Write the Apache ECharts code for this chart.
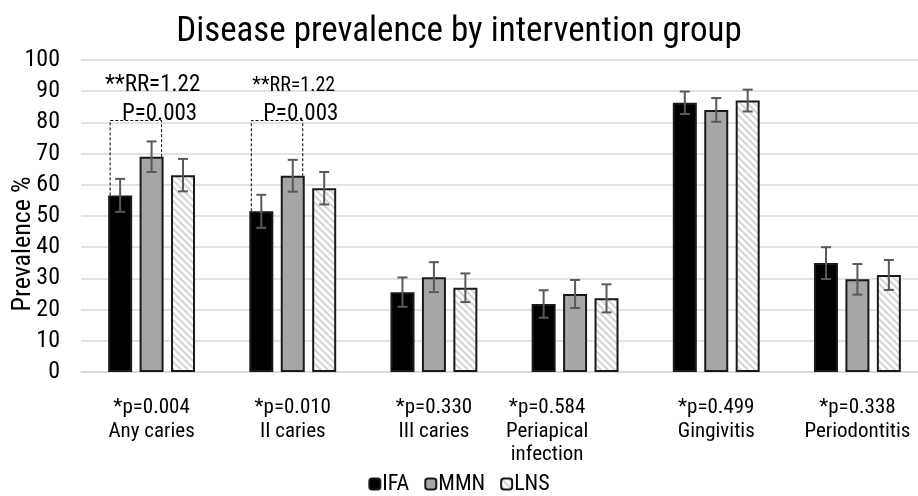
<!DOCTYPE html>
<html>
<head>
<meta charset="utf-8">
<script src="https://cdn.jsdelivr.net/npm/echarts@6/dist/echarts.min.js"></script>
<style>
html,body{margin:0;padding:0;background:#fff;}
#chart{width:918px;height:496px;}
</style>
</head>
<body>
<div id="chart"></div>
<script>
// ---- data ----
const categories = ['Any caries', 'II caries', 'III caries', 'Periapical\ninfection', 'Gingivitis', 'Periodontitis'];
const pValues = ['*p=0.004', '*p=0.010', '*p=0.330', '*p=0.584', '*p=0.499', '*p=0.338'];
const seriesNames = ['IFA', 'MMN', 'LNS'];
const ifaValues = [56.6, 51.5, 25.6, 21.8, 86.3, 34.9];
const mmnValues = [69.0, 62.9, 30.4, 25.0, 84.0, 29.7];
const lnsValues = [63.1, 58.9, 27.0, 23.6, 87.0, 31.1];
const ifaErrors = [5.3, 5.3, 4.7, 4.4, 3.6, 5.1];
const mmnErrors = [4.9, 5.1, 4.8, 4.5, 3.8, 4.9];
const lnsErrors = [5.2, 5.2, 4.6, 4.5, 3.5, 4.8];
const rrGroups = [0, 1];
const rrLabels = ['**RR=1.22', '**RR=1.22'];
const rrPLabels = ['P=0.003', 'P=0.003'];
const bracketTop = 80.6;
const yTicks = {min: 0, max: 100, interval: 10};

// ---- styling ----
const FONT = "'Roboto Condensed', 'Liberation Sans Narrow', 'Arial Narrow', 'Liberation Sans', Arial, sans-serif";
const BAR_W = 24;
const GAP = 0.31;
const BORDER = '#1a1a1a';

function hatch() {
  const c = document.createElement('canvas');
  c.width = 7; c.height = 7;
  const g = c.getContext('2d');
  g.fillStyle = '#ffffff';
  g.fillRect(0, 0, 7, 7);
  g.strokeStyle = '#d6d6d6';
  g.lineWidth = 2.2;
  g.beginPath();
  g.moveTo(-2, -2); g.lineTo(9, 9);
  g.moveTo(-9, -2); g.lineTo(2, 9);
  g.moveTo(5, -2); g.lineTo(16, 9);
  g.stroke();
  return c;
}
const fills = ['#000000', '#a6a6a6', {image: hatch(), repeat: 'repeat'}];
const valueSets = [ifaValues, mmnValues, lnsValues];
const errorSets = [ifaErrors, mmnErrors, lnsErrors];

function barOffset(k) {
  return (k - 1) * (BAR_W + BAR_W * GAP);
}

function errorRenderer(k) {
  return function (params, api) {
    const i = api.value(0), v = api.value(1), e = api.value(2);
    const x = api.coord([i, v])[0] + barOffset(k);
    const yHi = api.coord([i, v + e])[1];
    const yLo = api.coord([i, v - e])[1];
    const st = {stroke: '#595959', lineWidth: 2};
    const cap = 5;
    return {
      type: 'group',
      children: [
        {type: 'line', shape: {x1: x, y1: yHi, x2: x, y2: yLo}, style: st},
        {type: 'line', shape: {x1: x - cap, y1: yHi, x2: x + cap, y2: yHi}, style: st},
        {type: 'line', shape: {x1: x - cap, y1: yLo, x2: x + cap, y2: yLo}, style: st}
      ]
    };
  };
}

function bracketRenderer(params, api) {
  const i = api.value(0), a = api.value(1), b = api.value(2), t = api.value(3);
  const idx = params.dataIndex;
  const cx = api.coord([i, t])[0];
  const xl = cx + barOffset(0) - 10;
  const xr = cx + barOffset(1) + 10;
  const yT = api.coord([i, t])[1];
  const yA = api.coord([i, a])[1];
  const yB = api.coord([i, b])[1];
  const dash = {stroke: '#000', lineWidth: 1, lineDash: [3, 2], fill: null};
  return {
    type: 'group',
    children: [
      {type: 'polyline', shape: {points: [[xl, yA], [xl, yT], [xr, yT], [xr, yB]]}, style: dash},
      {type: 'text', x: cx + 1, y: yT - 35, style: {text: rrLabels[idx], font: (idx === 0 ? 23 : 20) + 'px ' + FONT, fill: '#000', textAlign: 'center', textVerticalAlign: 'middle'}},
      {type: 'text', x: cx + 8, y: yT - 6, style: {text: rrPLabels[idx], font: '23px ' + FONT, fill: '#000', textAlign: 'center', textVerticalAlign: 'middle'}}
    ]
  };
}

const series = [];
seriesNames.forEach(function (name, k) {
  series.push({
    name: name,
    type: 'bar',
    barWidth: BAR_W,
    barGap: (GAP * 100) + '%',
    data: valueSets[k],
    itemStyle: {color: fills[k], borderColor: BORDER, borderWidth: 2},
    z: 2
  });
});
seriesNames.forEach(function (name, k) {
  series.push({
    type: 'custom',
    renderItem: errorRenderer(k),
    data: valueSets[k].map(function (v, i) { return [i, v, errorSets[k][i]]; }),
    z: 5,
    silent: true
  });
});
series.push({
  type: 'custom',
  renderItem: bracketRenderer,
  data: rrGroups.map(function (g) { return [g, ifaValues[g], mmnValues[g], bracketTop]; }),
  z: 6,
  silent: true,
  clip: false
});

const chart = echarts.init(document.getElementById('chart'), null, {renderer: 'canvas'});
chart.setOption({
  animation: false,
  backgroundColor: '#ffffff',
  title: {
    text: 'Disease prevalence by intervention group',
    left: 'center',
    top: 10,
    textStyle: {fontFamily: FONT, fontSize: 35, fontWeight: 'normal', color: '#000'}
  },
  legend: {
    bottom: -4,
    left: 'center',
    itemWidth: 11,
    itemHeight: 11,
    itemGap: 15,
    data: seriesNames,
    textStyle: {fontFamily: FONT, fontSize: 22, color: '#000', padding: [0, 0, 0, -3]}
  },
  grid: {left: 81, top: 60, width: 847, height: 312, containLabel: false, outerBoundsMode: 'none'},
  xAxis: {
    type: 'category',
    data: categories,
    axisLine: {lineStyle: {color: '#d9d9d9', width: 1.5}},
    axisTick: {show: false},
    axisLabel: {
      interval: 0,
      margin: 24,
      formatter: function (v, i) {
        const lines = [pValues[i]].concat(v.split('\n'));
        const s = i === 3 ? 'sh' : 'n';
        return lines.map(function (l) { return '{' + s + '|' + l + '}'; }).join('\n');
      },
      rich: {
        n: {fontFamily: FONT, fontSize: 21, lineHeight: 23.5, color: '#000'},
        sh: {fontFamily: FONT, fontSize: 21, lineHeight: 23.5, color: '#000', padding: [0, 56, 0, 0]}
      }
    }
  },
  yAxis: {
    type: 'value',
    min: yTicks.min,
    max: yTicks.max,
    interval: yTicks.interval,
    name: 'Prevalence %',
    nameLocation: 'middle',
    nameGap: 45,
    nameMoveOverlap: false,
    nameTextStyle: {fontFamily: FONT, fontSize: 26, color: '#000', padding: [0, 56, 0, 0]},
    axisLabel: {fontFamily: FONT, fontSize: 24, color: '#000', margin: 21},
    axisLine: {show: false},
    axisTick: {show: false},
    splitLine: {lineStyle: {color: '#d9d9d9', width: 1.5}}
  },
  series: series
});
</script>
</body>
</html>
